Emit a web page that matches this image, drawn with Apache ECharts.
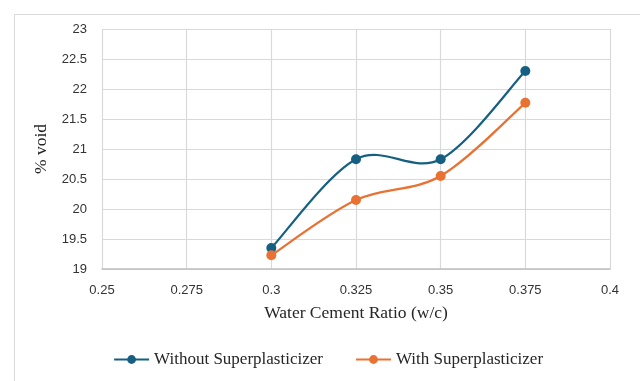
<!DOCTYPE html>
<html><head><meta charset="utf-8">
<script src="https://cdn.jsdelivr.net/npm/echarts@6/dist/echarts.min.js"></script>
<style>html,body{margin:0;padding:0;background:#fff}#c{width:640px;height:381px}</style>
</head><body><div id="c"></div>
<script>
const xValues = [0.3, 0.325, 0.35, 0.375];
const withoutSP = [19.35, 20.83, 20.83, 22.3];
const withSP = [19.23, 20.15, 20.55, 21.77];
const seriesNames = ['Without Superplasticizer', 'With Superplasticizer'];
const seriesColors = ['#156082', '#E97132'];

const chart = echarts.init(document.getElementById('c'), null, {renderer: 'canvas'});
const serif = '"Liberation Serif", "Times New Roman", serif';
const sans = '"Liberation Sans", Arial, sans-serif';

// Excel-style (Catmull-Rom, tension 1/6) smoothed curve through library coordinates
function curveRenderer(values, color) {
  return function (params, api) {
    if (params.dataIndex !== 0) return;
    const pts = xValues.map((x, i) => api.coord([x, values[i]]));
    let d = 'M' + pts[0][0] + ' ' + pts[0][1];
    for (let i = 0; i < pts.length - 1; i++) {
      const p0 = pts[Math.max(i - 1, 0)], p1 = pts[i], p2 = pts[i + 1], p3 = pts[Math.min(i + 2, pts.length - 1)];
      const c1 = [p1[0] + (p2[0] - p0[0]) / 6, p1[1] + (p2[1] - p0[1]) / 6];
      const c2 = [p2[0] - (p3[0] - p1[0]) / 6, p2[1] - (p3[1] - p1[1]) / 6];
      d += ' C' + c1[0] + ' ' + c1[1] + ' ' + c2[0] + ' ' + c2[1] + ' ' + p2[0] + ' ' + p2[1];
    }
    return {type: 'path', shape: {pathData: d}, style: {fill: 'none', stroke: color, lineWidth: 2.2}};
  };
}

const lineSeries = [withoutSP, withSP].map((vals, k) => ({
  name: seriesNames[k], type: 'line', symbol: 'circle', symbolSize: 10, z: 5,
  color: seriesColors[k], itemStyle: {color: seriesColors[k]},
  lineStyle: {width: 0, opacity: 0},
  data: xValues.map((x, i) => [x, vals[i]])
}));
const curveSeries = [withoutSP, withSP].map((vals, k) => ({
  name: seriesNames[k], type: 'custom', z: 3, clip: false,
  renderItem: curveRenderer(vals, seriesColors[k]),
  encode: {x: 0, y: 1},
  data: xValues.map((x, i) => [x, vals[i]])
}));

chart.setOption({
  animation: false,
  backgroundColor: '#fff',
  graphic: [{
    type: 'rect', left: 12, top: 12, shape: {width: 640, height: 381},
    style: {fill: 'none', stroke: '#d9d9d9', lineWidth: 1}, silent: true
  }],
  grid: {left: 102, right: 30, top: 29, bottom: 112, containLabel: false},
  xAxis: {
    type: 'value', min: 0.25, max: 0.4, interval: 0.025,
    name: 'Water Cement Ratio (w/c)', nameLocation: 'middle', nameGap: 35,
    nameTextStyle: {fontFamily: serif, fontSize: 17.5, color: '#262626'},
    axisLine: {show: true, lineStyle: {color: '#bfbfbf', width: 1.5}},
    axisTick: {show: false},
    axisLabel: {fontFamily: sans, fontSize: 13, color: '#333', margin: 15,
      formatter: v => String(parseFloat(v.toFixed(3)))},
    splitLine: {show: true, lineStyle: {color: '#d9d9d9', width: 1.2}}
  },
  yAxis: {
    type: 'value', min: 19, max: 23, interval: 0.5,
    name: '% void', nameLocation: 'middle', nameGap: 51, nameRotate: 90,
    nameTextStyle: {fontFamily: serif, fontSize: 17.5, color: '#262626'},
    axisLine: {show: false}, axisTick: {show: false},
    axisLabel: {fontFamily: sans, fontSize: 13, color: '#333', margin: 15},
    splitLine: {show: true, lineStyle: {color: '#d9d9d9', width: 1.2}}
  },
  legend: {
    top: 346, left: 108, itemGap: 32, itemWidth: 35, itemHeight: 11,
    textStyle: {fontFamily: serif, fontSize: 17, color: '#262626'},
    data: seriesNames.map((n, k) => ({
      name: n,
      lineStyle: {width: 2.2, opacity: 1, color: seriesColors[k]},
      itemStyle: {color: seriesColors[k]}
    }))
  },
  series: lineSeries.concat(curveSeries)
});
</script></body></html>
